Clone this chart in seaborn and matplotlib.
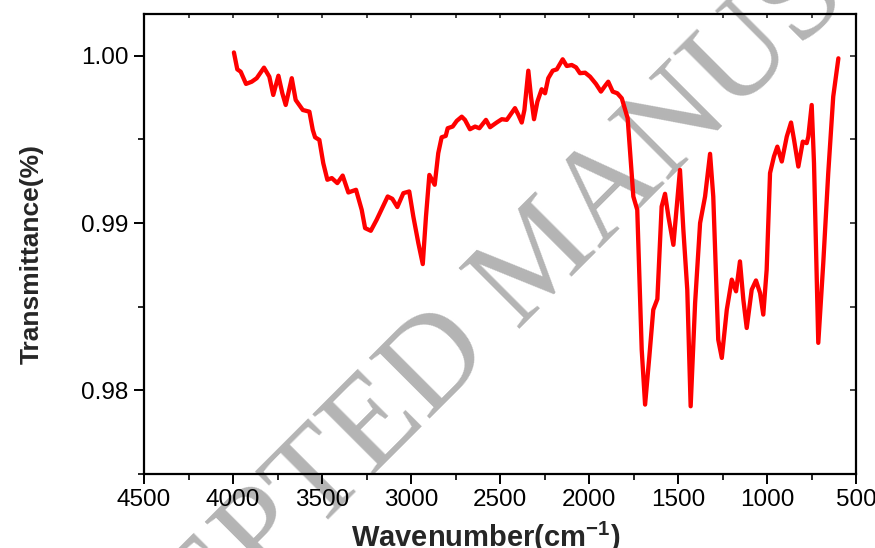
import matplotlib
matplotlib.use("Agg")
import matplotlib.pyplot as plt
from matplotlib.ticker import MultipleLocator, FormatStrFormatter
import seaborn as sns
import pandas as pd

# FTIR spectrum: wavenumber (cm^-1) and transmittance
wavenumber = [3995, 3976, 3957, 3927, 3895, 3867, 3826, 3796, 3774, 3745,
              3723, 3704, 3670, 3648, 3608, 3571, 3552, 3539, 3515, 3493,
              3470, 3445, 3414, 3384, 3352, 3309, 3277, 3258, 3226, 3193,
              3131, 3105, 3077, 3043, 3010, 2987, 2959, 2934, 2916, 2897,
              2867, 2847, 2828, 2805, 2794, 2766, 2743, 2715, 2697, 2669,
              2640, 2616, 2579, 2556, 2519, 2490, 2462, 2416, 2397, 2378,
              2363, 2341, 2326, 2309, 2290, 2266, 2247, 2229, 2204, 2181,
              2148, 2125, 2097, 2073, 2051, 2022, 1994, 1961, 1933, 1910,
              1892, 1867, 1841, 1816, 1783, 1766, 1751, 1729, 1704, 1685,
              1661, 1639, 1616, 1592, 1573, 1554, 1526, 1489, 1470, 1448,
              1429, 1404, 1376, 1348, 1320, 1302, 1274, 1254, 1226, 1198,
              1174, 1152, 1133, 1114, 1086, 1062, 1039, 1021, 1002, 983,
              961, 942, 917, 889, 865, 848, 824, 799, 777, 768,
              749, 736, 712, 684, 656, 628, 599]

transmittance = [1.0002, 0.99919, 0.99905, 0.99832, 0.99845, 0.99866, 0.99929, 0.99875, 0.99766, 0.99881,
                 0.99776, 0.99706, 0.99866, 0.99736, 0.99676, 0.99666, 0.99557, 0.99513, 0.99497, 0.99358,
                 0.99259, 0.99269, 0.99239, 0.99284, 0.99183, 0.99199, 0.99079, 0.98970, 0.98954, 0.9902,
                 0.99159, 0.99145, 0.99096, 0.99179, 0.99189, 0.99039, 0.98881, 0.98755, 0.99039, 0.99288,
                 0.99229, 0.99418, 0.99513, 0.99521, 0.99567, 0.99577, 0.99611, 0.99636, 0.99617, 0.99561,
                 0.99577, 0.99567, 0.99617, 0.99573, 0.99601, 0.99621, 0.99617, 0.99687, 0.99647, 0.99601,
                 0.99676, 0.99911, 0.99756, 0.99621, 0.99726, 0.998, 0.99776, 0.99866, 0.99911, 0.99919,
                 0.99979, 0.99939, 0.99945, 0.99931, 0.99896, 0.99899, 0.99875, 0.99832, 0.99786, 0.9982,
                 0.99845, 0.99786, 0.99776, 0.99746, 0.99627, 0.99378, 0.99159, 0.99079, 0.98244, 0.97915,
                 0.98204, 0.98482, 0.98546, 0.99099, 0.99175, 0.99039, 0.98870, 0.99318, 0.98960, 0.98602,
                 0.97905, 0.98522, 0.9900, 0.99159, 0.99414, 0.99159, 0.98303, 0.98194, 0.98482, 0.98662,
                 0.98592, 0.98771, 0.98542, 0.98373, 0.98602, 0.98657, 0.98582, 0.98453, 0.98721, 0.99299,
                 0.99398, 0.99457, 0.99368, 0.99517, 0.99601, 0.99497, 0.99338, 0.99487, 0.99478, 0.99517,
                 0.99706, 0.99358, 0.98284, 0.98761, 0.99299, 0.99756, 0.99985]

x_ticks = [4500, 4000, 3500, 3000, 2500, 2000, 1500, 1000, 500]
y_ticks = [0.98, 0.99, 1.00]

sns.set_style("ticks")
plt.rcParams["font.family"] = ["Liberation Sans", "DejaVu Sans"]
plt.rcParams["mathtext.fontset"] = "custom"
plt.rcParams["mathtext.rm"] = "Liberation Sans:bold"
plt.rcParams["mathtext.bf"] = "Liberation Sans:bold"
plt.rcParams["mathtext.default"] = "bf"

df = pd.DataFrame({"wavenumber": wavenumber, "transmittance": transmittance})

fig = plt.figure(figsize=(8.75, 5.48), dpi=100)
fig.patch.set_facecolor("white")
ax = fig.add_axes([0.1646, 0.135, 0.8137, 0.8395])
ax.set_facecolor("none")

sns.lineplot(data=df, x="wavenumber", y="transmittance", sort=False,
             color="#ff0000", linewidth=3.1, ax=ax,
             solid_joinstyle="round", solid_capstyle="round")

ax.set_xlim(4500, 500)
ax.set_ylim(0.975, 1.0025)
ax.set_xticks(x_ticks)
ax.set_yticks(y_ticks)
ax.xaxis.set_minor_locator(MultipleLocator(250))
ax.yaxis.set_minor_locator(MultipleLocator(0.005))
ax.yaxis.set_major_formatter(FormatStrFormatter("%.2f"))

for s in ax.spines.values():
    s.set_linewidth(1.6)
    s.set_color("black")
    s.set_visible(True)

ax.tick_params(axis="both", which="major", direction="out", length=7,
               width=1.4, labelsize=17.5, colors="black", pad=4)
ax.tick_params(axis="both", which="minor", direction="out", length=4, width=1.4)

# inward ticks on the top and right frame
top = ax.secondary_xaxis("top")
top.set_xticks(x_ticks)
top.xaxis.set_minor_locator(MultipleLocator(250))
top.tick_params(which="both", direction="in", length=3, width=1.2, labeltop=False)
right = ax.secondary_yaxis("right")
right.set_yticks(y_ticks)
right.yaxis.set_minor_locator(MultipleLocator(0.005))
right.tick_params(which="both", direction="in", length=4, width=1.2, labelright=False)
for sec in (top, right):
    for s in sec.spines.values():
        s.set_visible(False)

ax.set_xlabel(r"Wavenumber(cm$^{\mathbf{-1}}$)", fontsize=21, fontweight="bold", labelpad=6)
ax.set_ylabel("Transmittance(%)", fontsize=19, fontweight="bold", labelpad=27)
ax.xaxis.label.set_x(0.48)
ax.yaxis.label.set_y(0.478)

fig.text(0.645, 0.482, "ACCEPTED MANUSCRIPT", family=["Liberation Serif", "DejaVu Serif"],
         fontsize=94, color="#b4b4b4", rotation=45, rotation_mode="anchor",
         ha="center", va="baseline", zorder=-1)

fig.savefig("out.png", dpi=100)
